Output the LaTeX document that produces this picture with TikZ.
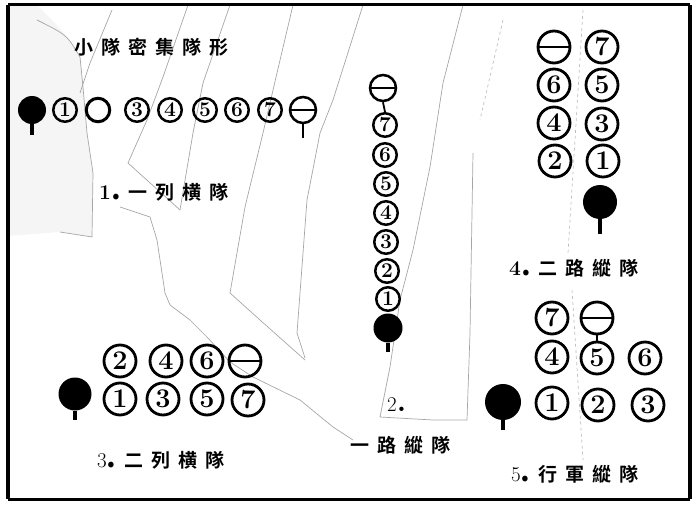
\documentclass[tikz,border=0pt]{standalone}
\usepackage{fontspec}
\newfontfamily\cjk[BoldFont={Noto Sans CJK TC Bold}]{Noto Sans CJK TC}
\newcommand{\gp}{\hspace{8pt}}
\newcommand{\lblnum}[2]{{\fontfamily{lmr}\fontseries{#1}\fontsize{21}{21}\selectfont #2}{\fontsize{30}{30}\selectfont\bfseries .}\hspace{8pt}}
\begin{document}
\begin{tikzpicture}[x=1pt,y=-1pt,
  every node/.style={inner sep=0pt},
  sm/.style={circle,draw,line width=2.5pt,minimum size=23.5pt,font=\fontsize{21}{21}\selectfont\bfseries},
  bg/.style={circle,draw,line width=2.8pt,minimum size=32pt,font=\fontsize{27}{27}\selectfont\bfseries},
  chief/.style={path picture={\draw[line width=2pt] (path picture bounding box.west) -- (path picture bounding box.east);}},
  lead/.style={circle,fill=black,minimum size=#1},
  stem/.style={line width=3.2pt},
  trace/.style={black!35,line width=0.7pt},
  lbl/.style={anchor=base west,font=\cjk\bfseries\fontsize{19}{19}\selectfont}]
\useasboundingbox (0,0) rectangle (696,505);
% background traces
\fill[black!4] (8,5) -- (37,5) .. controls (67,35) .. (80,57) -- (83,87) -- (87,133) -- (93,173) -- (92,237) -- (60,232) -- (8,236) -- cycle;
\draw[trace] (37,20) .. controls (67,35) .. (80,57) -- (83,87) -- (87,133) -- (93,173) -- (92,237) -- (60,232);
\draw[trace] (112,10) -- (90,63) -- (80,93);
\draw[trace] (188,5) -- (163,77) -- (147,120) -- (128,163) -- (180,210);
\draw[trace] (230,5) -- (203,83) -- (193,133) -- (180,210);
\draw[trace] (120,207) -- (150,217) -- (157,240) -- (165,293) -- (170,305) -- (190,320) -- (207,337) -- (230,362) -- (253,377) -- (300,400) -- (333,427) -- (353,440);
\draw[trace] (293,5) -- (277,73) -- (263,133) -- (245,207) -- (230,293) -- (260,320) -- (305,360);
\draw[trace] (363,5) -- (333,100) -- (320,133) -- (307,200) -- (297,333) -- (305,358);
\draw[trace] (463,5) -- (443,83) -- (430,167) -- (413,250) -- (400,300) -- (390,367) -- (380,417) -- (433,420) -- (467,420) -- (470,333) -- (473,153);
\draw[trace,black!25,dashed] (503,20) -- (480,120);
\draw[trace,black!25,dashed] (583,10) -- (568,253);
\draw[trace,black!25,dashed] (572,290) -- (583,460);
% frame
\draw[line width=3pt] (8,5) -- (690,5);
\draw[line width=4pt] (8,5) -- (8,499);
\draw[line width=4pt] (690,5) -- (690,499);
\draw[line width=3pt] (8,499) -- (690,499);
% title
\node[lbl] (title) at (74,55) {小\gp 隊\gp 密\gp 集\gp 隊\gp 形};
% group 1
\node[lead=28pt] (a0) at (32,110) {};
\node[sm] (a1) at (65,110) {1};
\node[sm,line width=3pt] (a2) at (98,110) {};
\node[sm] (a3) at (137,110) {3};
\node[sm] (a4) at (170,110) {4};
\node[sm] (a5) at (205,110) {5};
\node[sm] (a6) at (237,110) {6};
\node[sm] (a7) at (270,110) {7};
\node[sm,chief,minimum size=26pt] (a8) at (303,110) {};
\coordinate (a0s) at (32,135);
\coordinate (a8s) at (303,138);
\draw[stem] (a0.south) -- (a0s);
\draw[stem,line width=2.2pt] (a8.south) -- (a8s);
\node[lbl] (l1) at (99,200) {\lblnum{bx}{1}一\gp 列\gp 横\gp 隊};
% group 2
\node[sm,chief,minimum size=26pt] (b8) at (383,88) {};
\node[sm] (b7) at (385,125) {7};
\node[sm] (b6) at (385,155) {6};
\node[sm] (b5) at (386,184) {5};
\node[sm] (b4) at (386,213) {4};
\node[sm] (b3) at (386,242) {3};
\node[sm] (b2) at (387,271) {2};
\node[sm] (b1) at (388,299) {1};
\node[lead=29pt] (b0) at (388,328) {};
\coordinate (b0s) at (388,352);
\draw[line width=1.8pt] (b8.south) -- (b7.north);
\draw[stem] (b0.south) -- (b0s);
\node[anchor=base west,font=\fontsize{21}{21}\selectfont] (l2a) at (387,411) {2{\fontsize{30}{30}\selectfont\bfseries .}};
\node[lbl] (l2) at (350,452) {一\gp 路\gp 縱\gp 隊};
% group 3
\node[bg] (c2) at (120,361) {2};
\node[bg] (c4) at (166,361) {4};
\node[bg] (c6) at (207,361) {6};
\node[bg,chief] (c8) at (245,361) {};
\node[lead=33pt] (c0) at (75,394) {};
\node[bg] (c1) at (120,399) {1};
\node[bg] (c3) at (163,399) {3};
\node[bg] (c5) at (207,399) {5};
\node[bg] (c7) at (248,400) {7};
\coordinate (c0s) at (75,420);
\draw[stem] (c0.south) -- (c0s);
\node[lbl] (l3) at (97,467) {\lblnum{m}{3}二\gp 列\gp 横\gp 隊};
% group 4
\node[bg,chief] (d8) at (554,47) {};
\node[bg] (d7) at (602,47) {7};
\node[bg] (d6) at (554,85) {6};
\node[bg] (d5) at (602,85) {5};
\node[bg] (d4) at (554,123) {4};
\node[bg] (d3) at (602,124) {3};
\node[bg] (d2) at (555,161) {2};
\node[bg] (d1) at (603,161) {1};
\node[lead=34pt] (d0) at (600,202) {};
\coordinate (d0s) at (600,234);
\draw[stem] (d0.south) -- (d0s);
\node[lbl] (l4) at (509,275) {\lblnum{bx}{4}二\gp 路\gp 縱\gp 隊};
% group 5
\node[bg] (e7) at (552,318) {7};
\node[bg,chief] (e8) at (597,318) {};
\node[bg] (e4) at (552,357) {4};
\node[bg] (e5) at (597,358) {5};
\node[bg] (e6) at (645,358) {6};
\node[lead=36pt] (e0) at (503,402) {};
\node[bg] (e1) at (552,403) {1};
\node[bg] (e2) at (598,405) {2};
\node[bg] (e3) at (648,405) {3};
\draw[line width=1.8pt] (e8.south) -- (e5.north);
\coordinate (e0s) at (503,430);
\draw[stem] (e0.south) -- (e0s);
\node[lbl] (l5) at (511,481) {\lblnum{m}{5}行\gp 軍\gp 縱\gp 隊};
\end{tikzpicture}
\end{document}
